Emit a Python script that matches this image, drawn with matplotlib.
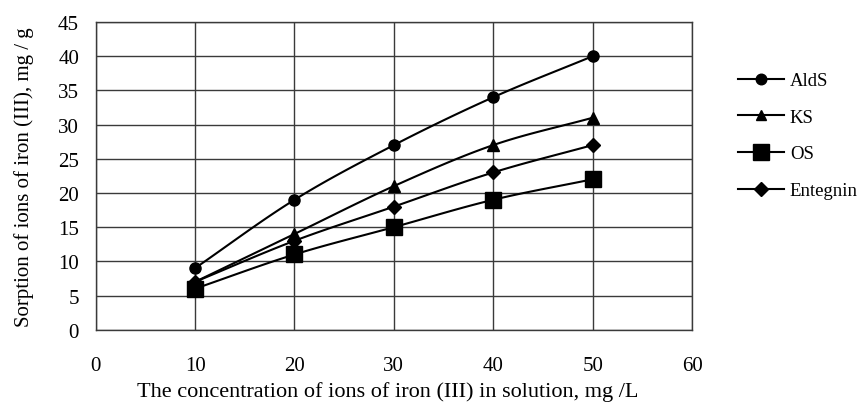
import numpy as np
import matplotlib
matplotlib.use("Agg")
import matplotlib.pyplot as plt

plt.rcParams['font.family'] = ['Liberation Serif', 'DejaVu Serif']

concentration = [10, 20, 30, 40, 50]
alds = [9, 19, 27, 34, 40]
ks = [7, 14, 21, 27, 31]
os_ = [6, 11, 15, 19, 22]
entegnin = [7, 13, 18, 23, 27]

series = [
    ("AldS", alds, "o", 8),
    ("KS", ks, "^", 8),
    ("OS", os_, "s", 11.5),
    ("Entegnin", entegnin, "D", 7),
]


def smooth(x, y, n=30):
    """Catmull-Rom spline through the points, similar to a smoothed line."""
    x = np.asarray(x, float)
    y = np.asarray(y, float)
    px = np.concatenate([[2 * x[0] - x[1]], x, [2 * x[-1] - x[-2]]])
    py = np.concatenate([[2 * y[0] - y[1]], y, [2 * y[-1] - y[-2]]])
    xs, ys = [], []
    t = np.linspace(0, 1, n)
    for i in range(1, len(px) - 2):
        for arr, out in ((px, xs), (py, ys)):
            p0, p1, p2, p3 = arr[i - 1], arr[i], arr[i + 1], arr[i + 2]
            seg = 0.5 * ((2 * p1) + (-p0 + p2) * t
                         + (2 * p0 - 5 * p1 + 4 * p2 - p3) * t ** 2
                         + (-p0 + 3 * p1 - 3 * p2 + p3) * t ** 3)
            out.extend(seg)
    return np.array(xs), np.array(ys)


FS = 15
LEG_FS = 13.5

fig = plt.figure(figsize=(8.63, 4.06), dpi=100)
ax = fig.add_axes([0.1109, 0.1855, 0.6910, 0.7578])

for label, vals, marker, ms in series:
    sx, sy = smooth(concentration, vals)
    ax.plot(sx, sy, color='black', lw=1.5, zorder=3)
    ax.plot(concentration, vals, linestyle='none', marker=marker,
            markersize=ms, color='black', zorder=4)

ax.set_xlim(0, 60)
ax.set_ylim(0, 45)
ax.set_xticks(range(0, 61, 10))
ax.set_yticks(range(0, 46, 5))
ax.grid(True, color='#3a3a3a', lw=1.0)
ax.set_axisbelow(True)
ax.tick_params(length=0, labelsize=FS)
ax.tick_params(axis='y', pad=12)
ax.tick_params(axis='x', pad=19)
for sp in ax.spines.values():
    sp.set_color('#3a3a3a')
    sp.set_linewidth(1.0)

ax.set_xlabel("The concentration of ions of iron (III) in solution, mg /L",
              fontsize=16, labelpad=4)
ax.xaxis.label.set_x(0.489)
ax.set_ylabel("Sorption of ions of iron (III), mg / g", fontsize=15, labelpad=17)

handles = [
    plt.Line2D([], [], color='black', lw=1.5, marker=m, markersize=ms * 0.95)
    for _, _, m, ms in series
]
fig.legend(handles, [s[0] for s in series], loc='upper left',
           bbox_to_anchor=(0.855, 0.820), frameon=False, fontsize=LEG_FS,
           handlelength=2.45, handletextpad=0.32, labelspacing=1.04,
           borderaxespad=0, borderpad=0)

fig.savefig("out.png", dpi=100)
